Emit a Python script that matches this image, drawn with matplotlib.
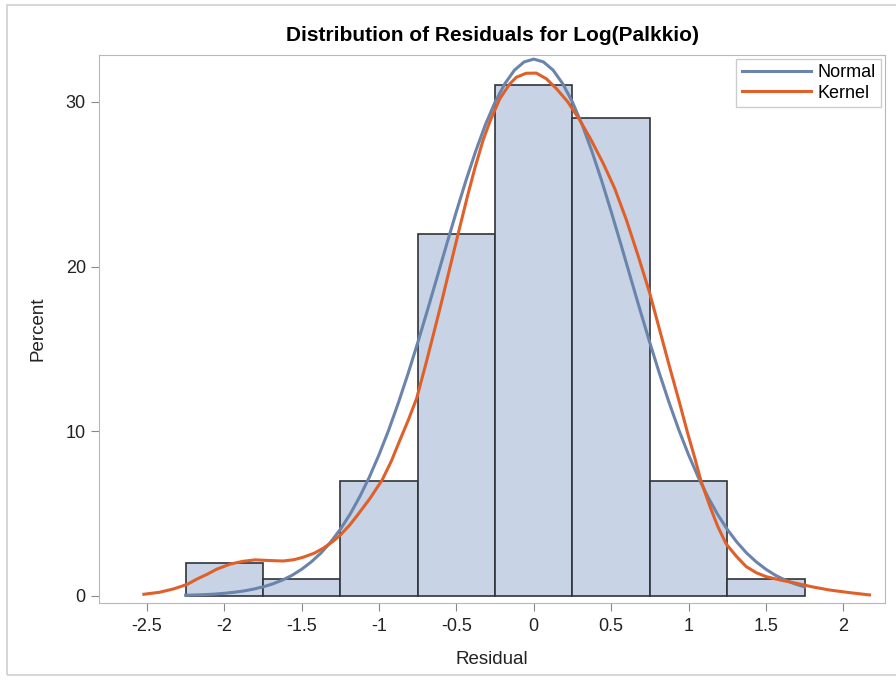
import matplotlib
matplotlib.use("Agg")
import matplotlib.pyplot as plt
from matplotlib.patches import Rectangle
from matplotlib.ticker import FuncFormatter

plt.rcParams['font.family'] = ['Liberation Sans', 'DejaVu Sans']

# histogram: bin midpoints and percent per bin
bin_mid = [-2.0, -1.5, -1.0, -0.5, 0.0, 0.5, 1.0, 1.5]
bin_pct = [2, 1, 7, 22, 31, 29, 7, 1]
bin_width = 0.5

# fitted normal curve
norm_x = [-2.25, -2.1875, -2.125, -2.0625, -2.0, -1.9375, -1.875, -1.8125,
          -1.75, -1.6875, -1.625, -1.5625, -1.5, -1.4375, -1.375, -1.3125,
          -1.25, -1.1875, -1.125, -1.0625, -1.0, -0.9375, -0.875, -0.8125,
          -0.75, -0.6875, -0.625, -0.5625, -0.5, -0.4375, -0.375, -0.3125,
          -0.25, -0.1875, -0.125, -0.0625, 0.0,
          0.0625, 0.125, 0.1875, 0.25, 0.3125, 0.375, 0.4375, 0.5,
          0.5625, 0.625, 0.6875, 0.75, 0.8125, 0.875, 0.9375, 1.0,
          1.0625, 1.125, 1.1875, 1.25, 1.3125, 1.375, 1.4375, 1.5,
          1.5625, 1.625, 1.6875, 1.75]
norm_y = [0.04, 0.06, 0.08, 0.11, 0.16, 0.22, 0.30, 0.41,
          0.55, 0.73, 0.96, 1.25, 1.62, 2.07, 2.61, 3.27,
          4.05, 4.96, 6.02, 7.22, 8.58, 10.08, 11.73, 13.50,
          15.38, 17.34, 19.35, 21.37, 23.35, 25.25, 27.02, 28.62,
          29.99, 31.10, 31.93, 32.43, 32.6,
          32.43, 31.93, 31.10, 29.99, 28.62, 27.02, 25.25, 23.35,
          21.37, 19.35, 17.34, 15.38, 13.50, 11.73, 10.08, 8.58,
          7.22, 6.02, 4.96, 4.05, 3.27, 2.61, 2.07, 1.62,
          1.25, 0.96, 0.73, 0.55]

# kernel density curve
kern_x = [-2.52, -2.42, -2.33, -2.24, -2.18, -2.11, -2.05, -1.96, -1.88,
          -1.8, -1.71, -1.62, -1.55, -1.49, -1.42, -1.36, -1.3, -1.25,
          -1.19, -1.14, -1.06, -0.98, -0.92, -0.868, -0.81, -0.757, -0.7,
          -0.64, -0.592, -0.525, -0.478, -0.428, -0.38, -0.327, -0.28,
          -0.219, -0.155, -0.112, -0.05, 0.017, 0.082, 0.147, 0.22, 0.297,
          0.37, 0.447, 0.523, 0.598, 0.673, 0.749, 0.815, 0.878, 0.94,
          0.997, 1.04, 1.08, 1.14, 1.19, 1.244, 1.31, 1.373, 1.44, 1.502,
          1.6, 1.696, 1.8, 1.911, 2.04, 2.17]
kern_y = [0.10, 0.22, 0.42, 0.70, 1.01, 1.32, 1.62, 1.94, 2.10,
          2.19, 2.15, 2.12, 2.20, 2.35, 2.59, 2.90, 3.3, 3.7,
          4.3, 4.9, 5.9, 7.04, 8.2, 9.4, 10.7, 12.0, 14.0,
          16.2, 18.0, 20.6, 22.4, 24.3, 26.0, 27.7, 28.9,
          30.2, 31.1, 31.5, 31.74, 31.75, 31.4, 30.8, 30.0, 28.9,
          27.7, 26.3, 24.75, 22.85, 20.7, 18.4, 16.1, 13.9, 11.8,
          9.8, 8.4, 7.0, 5.4, 4.2, 3.15, 2.4, 1.78, 1.4, 1.17,
          0.95, 0.77, 0.55, 0.36, 0.2, 0.06]

x_ticks = [-2.5, -2, -1.5, -1, -0.5, 0, 0.5, 1, 1.5, 2]
y_ticks = [0, 10, 20, 30]

fig = plt.figure(figsize=(8.96, 6.8), dpi=100)
fig.patches.append(Rectangle((7/896, 5/680), 1.0, 670/680, transform=fig.transFigure,
                             fill=False, edgecolor='#d0d0d0', linewidth=1.2))
ax = fig.add_axes([99/896, 1 - 603/680, 786/896, 548/680])

ax.bar(bin_mid, bin_pct, width=bin_width, color='#c8d4e6', edgecolor='#303438',
       linewidth=1.2, zorder=2)
ax.plot(norm_x, norm_y, color='#6a84ab', linewidth=2.2, label='Normal', zorder=3)
ax.plot(kern_x, kern_y, color='#e0602a', linewidth=2.2, label='Kernel', zorder=4)

ax.set_xlim(-2.81, 2.27)
ax.set_ylim(-0.43, 32.85)
ax.set_xticks(x_ticks)
ax.set_yticks(y_ticks)
ax.xaxis.set_major_formatter(FuncFormatter(lambda v, p: '%g' % v))

for s in ax.spines.values():
    s.set_color('#b8b8b8')
ax.tick_params(colors='#888888', labelcolor='#222222', labelsize=13, length=6)
ax.tick_params(axis='x', pad=5)

ax.set_xlabel('Residual', fontsize=13.5, color='#222222', labelpad=11)
ax.set_ylabel('Percent', fontsize=13.5, color='#222222', labelpad=14)
ax.set_title('Distribution of Residuals for Log(Palkkio)', fontsize=15,
             fontweight='bold', pad=10)

leg = ax.legend(loc='upper right', fontsize=13, handlelength=3.8, fancybox=False,
                borderaxespad=0.2, handletextpad=0.4, labelspacing=0.2,
                borderpad=0.3)
leg.get_frame().set_edgecolor('#c0c0c0')
leg.get_frame().set_linewidth(1.0)

fig.savefig('out.png', dpi=100)
